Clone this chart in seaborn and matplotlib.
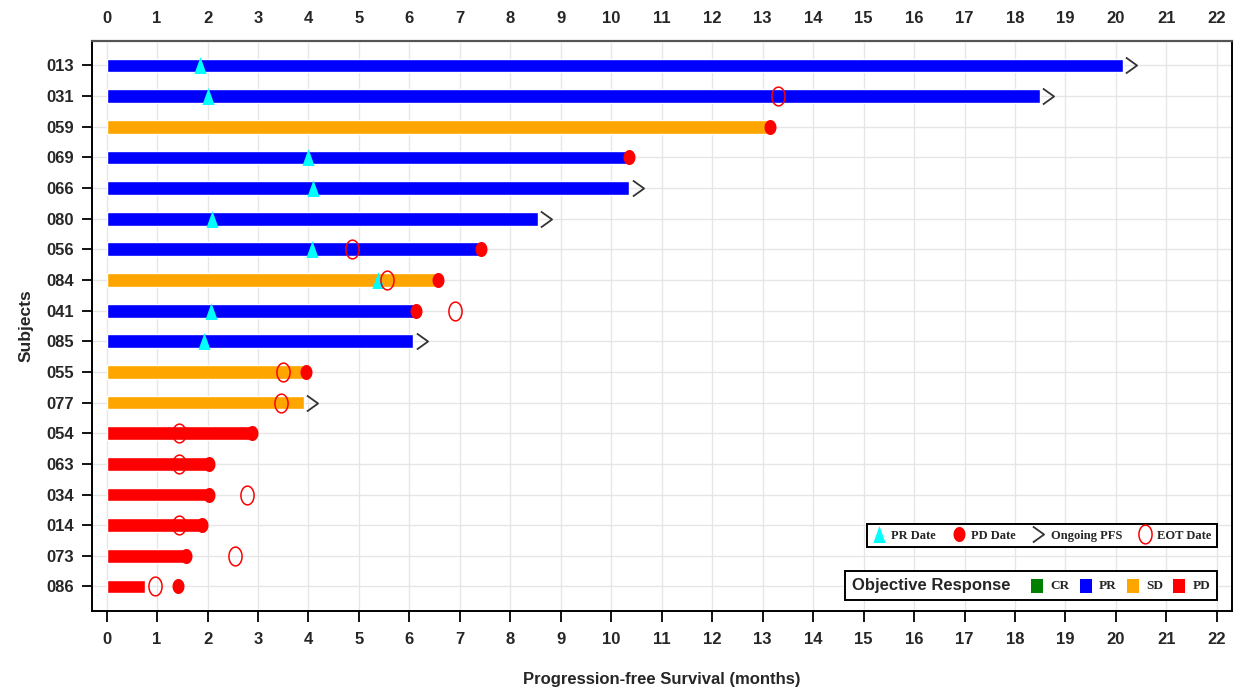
import numpy as np
import pandas as pd
import matplotlib
matplotlib.use("Agg")
import matplotlib.pyplot as plt
import seaborn as sns
from matplotlib.path import Path
from matplotlib.lines import Line2D
from matplotlib.patches import Rectangle
from matplotlib.offsetbox import AnchoredOffsetbox, HPacker, TextArea, DrawingArea

# ---- data (months) ----
subjects = ["013", "031", "059", "069", "066", "080", "056", "084", "041",
            "085", "055", "077", "054", "063", "034", "014", "073", "086"]
response = ["PR", "PR", "SD", "PR", "PR", "PR", "PR", "SD", "PR",
            "PR", "SD", "SD", "PD", "PD", "PD", "PD", "PD", "PD"]
duration = [20.14, 18.49, 13.14, 10.33, 10.36, 8.55, 7.42, 6.57, 6.10,
            6.08, 3.95, 3.91, 2.88, 2.03, 2.02, 1.88, 1.58, 0.77]
pr_date = [1.86, 2.00, None, 4.00, 4.09, 2.09, 4.07, 5.38, 2.06,
           1.93, None, None, None, None, None, None, None, None]
pd_date = [None, None, 13.14, 10.35, None, None, 7.42, 6.57, 6.13,
           None, 3.95, None, 2.88, 2.03, 2.02, 1.88, 1.58, 1.42]
eot_date = [None, 13.31, None, None, None, None, 4.87, 5.55, 6.90,
            None, 3.49, 3.45, 1.43, 1.43, 2.79, 1.43, 2.55, 0.95]
ongoing = [True, True, False, False, True, True, False, False, False,
           True, False, True, False, False, False, False, False, False]

response_levels = ["CR", "PR", "SD", "PD"]
response_colors = ["#008000", "#0000FF", "#FFA500", "#FF0000"]
x_ticks = list(range(0, 23))

df = pd.DataFrame({
    "subject": subjects,
    "response": response,
    "duration": duration,
    "pr": pd.array(pr_date, dtype="Float64").astype(float),
    "pd": pd.array(pd_date, dtype="Float64").astype(float),
    "eot": pd.array(eot_date, dtype="Float64").astype(float),
    "ongoing": ongoing,
})
df["arrow"] = np.where(df["ongoing"], df["duration"] + 0.16, np.nan)

sns.set_theme(style="white")
plt.rcParams["font.family"] = ["Liberation Sans", "DejaVu Sans"]

# ---- marker shapes ----
t = np.linspace(0, 2 * np.pi, 73)
tri_marker = Path([(0, 0.5), (-0.36, -0.5), (0.36, -0.5), (0, 0.5)], closed=True)
dot_marker = Path(np.c_[0.40 * np.cos(t), 0.5 * np.sin(t)], closed=True)
ring_marker = Path(np.c_[0.35 * np.cos(t), 0.5 * np.sin(t)], closed=True)
chev_marker = Path([(-0.35, 0.5), (0.35, 0.0), (-0.35, -0.5)],
                   [Path.MOVETO, Path.LINETO, Path.LINETO])

fig = plt.figure(figsize=(12.5, 6.91), dpi=100)
ax = fig.add_axes([0.0736, 0.1158, 0.912, 0.8249])

sns.barplot(data=df, x="duration", y="subject", hue="response",
            hue_order=response_levels,
            palette=dict(zip(response_levels, response_colors)),
            dodge=False, width=0.45, orient="h", saturation=1,
            legend=False, ax=ax, zorder=2)

ypos = np.arange(len(subjects))
ax.plot(df["pr"], ypos, ls="none", marker=tri_marker, ms=12.2,
        color="#00FFFF", mec="none", zorder=3)
ax.plot(df["pd"], ypos, ls="none", marker=dot_marker, ms=10.8,
        color="#FF0000", mec="none", zorder=4)
ax.plot(df["eot"], ypos, ls="none", marker=ring_marker, ms=13.5,
        mfc="none", mec="#FF0000", mew=1.1, zorder=5)
ax.plot(df["arrow"], ypos, ls="none", marker=chev_marker, ms=11.5,
        mfc="none", mec="#333333", mew=1.3, zorder=5)

# ---- axes ----
ax.set_xlim(-0.29, 22.3)
ax.set_ylim(len(subjects) - 0.2, -0.8)
ax.set_xticks(x_ticks)
ax.set_axisbelow(True)
ax.grid(True, axis="both", color="#e6e6e6", lw=1.0)

ax.tick_params(axis="x", bottom=True, length=8, width=1.3, pad=7, color="black")
ax.tick_params(axis="y", left=True, length=7, width=1.3, pad=6, color="black")
for lab in ax.get_xticklabels() + ax.get_yticklabels():
    lab.set_fontsize(12)
    lab.set_fontweight("bold")

top = ax.secondary_xaxis("top")
top.set_xticks(x_ticks)
top.tick_params(length=0, pad=11)
for lab in top.get_xticklabels():
    lab.set_fontsize(12)
    lab.set_fontweight("bold")
top.spines["top"].set_color("#555555")
top.spines["top"].set_linewidth(1.6)

for side in ["left", "right", "bottom", "top"]:
    ax.spines[side].set_visible(True)
    ax.spines[side].set_color("black")
    ax.spines[side].set_linewidth(1.4)
ax.spines["top"].set_color("#555555")

ax.set_xlabel("Progression-free Survival (months)", fontsize=12,
              fontweight="bold", labelpad=18)
ax.set_ylabel("Subjects", fontsize=12.5, fontweight="bold", labelpad=9)

# ---- event legend ----
serif_bold = dict(family="Liberation Serif", weight="bold", size=9)
handles = [
    Line2D([], [], ls="none", marker=tri_marker, ms=12.2, color="#00FFFF", mec="none"),
    Line2D([], [], ls="none", marker=dot_marker, ms=10.8, color="#FF0000", mec="none"),
    Line2D([], [], ls="none", marker=chev_marker, ms=11.5, mfc="none", mec="#333333", mew=1.3),
    Line2D([], [], ls="none", marker=ring_marker, ms=13.5, mfc="none", mec="#FF0000", mew=1.1),
]
labels = ["PR Date", "PD Date", "Ongoing PFS", "EOT Date"]
leg = ax.legend(handles, labels, loc="lower right", bbox_to_anchor=(0.987, 0.112),
                ncol=4, frameon=True, fancybox=False, framealpha=1,
                edgecolor="black", borderaxespad=0, prop=serif_bold,
                handlelength=1.0, handletextpad=0.5, columnspacing=1.3,
                borderpad=0.45)
leg.get_frame().set_linewidth(1.4)
ax.add_artist(leg)

# ---- response legend ----
title = TextArea("Objective Response",
                 textprops=dict(family="Liberation Sans", weight="bold", size=12))
pairs = []
for lvl, col in zip(response_levels, response_colors):
    da = DrawingArea(8.6, 9, 0, 0)
    da.add_artist(Rectangle((0, -0.5), 8.6, 10, fc=col, ec="none"))
    pairs.append(HPacker(children=[da, TextArea(lvl, textprops=dict(
        family="Liberation Serif", weight="bold", size=9.5))], pad=0, sep=5.5,
        align="center"))
swatches = HPacker(children=pairs, pad=0, sep=7, align="center")
box = HPacker(children=[title, swatches], pad=0, sep=15, align="center")
anchored = AnchoredOffsetbox(loc="lower right", child=box, pad=0.45, borderpad=0,
                             frameon=True, bbox_to_anchor=(0.987, 0.019),
                             bbox_transform=ax.transAxes)
anchored.patch.set_edgecolor("black")
anchored.patch.set_linewidth(1.4)
anchored.patch.set_boxstyle("square", pad=0)
ax.add_artist(anchored)

fig.savefig("out.png", dpi=100)
